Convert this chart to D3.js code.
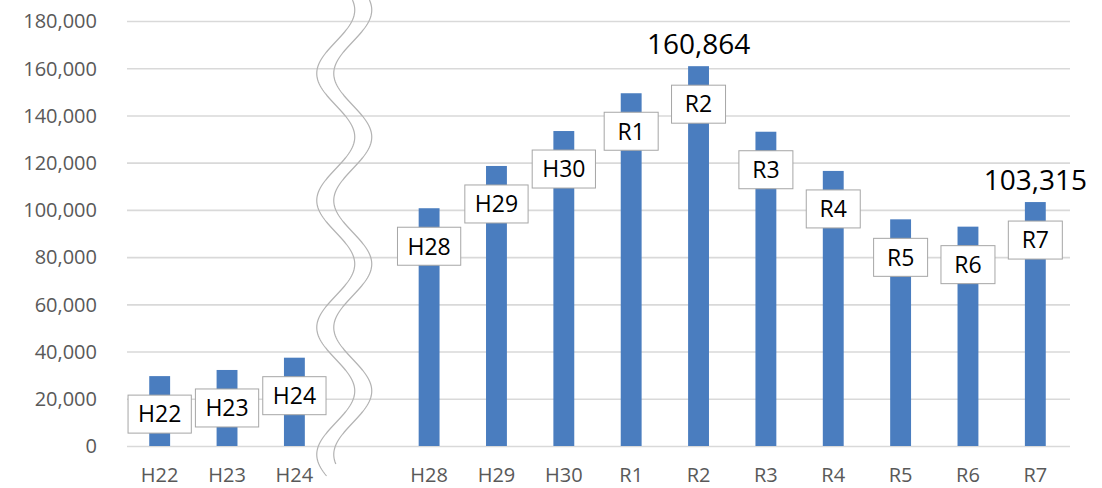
<!DOCTYPE html>
<html>
<head>
<meta charset="utf-8">
<script src="https://cdn.jsdelivr.net/npm/d3@7/dist/d3.min.js"></script>
<style>
  html, body { margin: 0; padding: 0; background: #fff; }
  svg { display: block; font-family: "Open Sans", "Noto Sans", sans-serif; }
</style>
</head>
<body>
<svg id="chart" width="1102" height="488"></svg>
<script>
// ---- data ----
const categories = ["H22","H23","H24","H28","H29","H30","R1","R2","R3","R4","R5","R6","R7"];
const values     = [29600, 32200, 37400, 100700, 118600, 133400, 149400, 160864, 133100, 116500, 96000, 92900, 103315];
const gapAfter   = "H24";                 // axis break placed after this category
const valueLabelCats = ["R2", "R7"];      // bars with value shown on top
const yTicks     = [0, 20000, 40000, 60000, 80000, 100000, 120000, 140000, 160000, 180000];

// ---- layout ----
const W = 1102, H = 488;
const plot = { left: 126, right: 1069, top: 21, bottom: 446 };
const svg = d3.select("#chart");

const GAP = "__gap__";
const domain = [];
categories.forEach(c => { domain.push(c); if (c === gapAfter) domain.push(GAP); });

const x = d3.scaleBand().domain(domain).range([plot.left, plot.right])
  .paddingInner(0.69).paddingOuter(0.345);
const y = d3.scaleLinear().domain([0, 180000]).range([plot.bottom, plot.top]);

const data = categories.map((c, i) => ({ cat: c, value: values[i] }));

// gridlines
svg.append("g")
  .attr("transform", `translate(${plot.left + 1},0)`)
  .call(d3.axisLeft(y).tickValues(yTicks).tickSize(-(plot.right - plot.left)).tickFormat(""))
  .call(g => g.select(".domain").remove())
  .call(g => g.selectAll("line").attr("stroke", "#d9d9d9").attr("stroke-width", 1.6));

// y axis labels
svg.append("g")
  .attr("transform", `translate(97,0)`)
  .call(d3.axisLeft(y).tickValues(yTicks).tickSize(0).tickPadding(0).tickFormat(d3.format(",")))
  .call(g => g.select(".domain").remove())
  .call(g => g.selectAll("text")
    .attr("fill", "#595959").style("font-size", "20px")
    .style("font-family", "'Open Sans', sans-serif").attr("dy", "0.34em"));

// x axis labels
svg.append("g")
  .attr("transform", `translate(0,${plot.bottom})`)
  .call(d3.axisBottom(x).tickSize(0).tickPadding(0).tickFormat(d => d === GAP ? "" : d))
  .call(g => g.select(".domain").remove())
  .call(g => g.selectAll("text")
    .attr("fill", "#595959").style("font-size", "20px")
    .style("font-family", "'Open Sans', sans-serif")
    .attr("dy", null).attr("y", 36));

// bars
svg.append("g").selectAll("rect").data(data).join("rect")
  .attr("x", d => x(d.cat))
  .attr("width", x.bandwidth())
  .attr("y", d => y(d.value))
  .attr("height", d => y(0) - y(d.value))
  .attr("fill", "#4a7dbf");

// axis break (two wavy lines) in the gap slot
const gapCx = x(GAP) + x.bandwidth() / 2 - 26;
const period = 127, amp = 19, yPeak = 137;
function wave(offset, yEnd) {
  const pts = [];
  for (let yy = 0; yy <= yEnd; yy += 2) {
    pts.push([gapCx + offset + amp * Math.sin(2 * Math.PI * (yy - yPeak) / period + Math.PI / 2), yy]);
  }
  return d3.line()(pts);
}
svg.append("path").attr("d", wave(0, 476)).attr("fill", "none")
  .attr("stroke", "#b3b3b3").attr("stroke-width", 1.2);
svg.append("path").attr("d", wave(17, 464)).attr("fill", "none")
  .attr("stroke", "#b3b3b3").attr("stroke-width", 1.2);

// category label boxes
const boxH = 38, boxOffset = 38;
const lbl = svg.append("g").selectAll("g").data(data).join("g")
  .attr("transform", d => `translate(${x(d.cat) + x.bandwidth() / 2},${y(d.value) + boxOffset})`);
const lblText = lbl.append("text")
  .attr("text-anchor", "middle").attr("dy", "0.36em")
  .style("font-size", "23px").attr("fill", "#000")
  .text(d => d.cat);
lbl.each(function () {
  const g = d3.select(this);
  const tw = g.select("text").node().getComputedTextLength();
  const bw = Math.max(tw + 20, 54);
  g.insert("rect", "text")
    .attr("x", -bw / 2).attr("y", -boxH / 2)
    .attr("width", bw).attr("height", boxH)
    .attr("fill", "#fff").attr("stroke", "#a6a6a6").attr("stroke-width", 1);
});

// value labels
svg.append("g").selectAll("text")
  .data(data.filter(d => valueLabelCats.includes(d.cat))).join("text")
  .attr("x", d => x(d.cat) + x.bandwidth() / 2)
  .attr("y", d => y(d.value) - 12)
  .attr("text-anchor", "middle")
  .style("font-size", "28px").attr("fill", "#000")
  .text(d => d3.format(",")(d.value));
</script>
</body>
</html>
